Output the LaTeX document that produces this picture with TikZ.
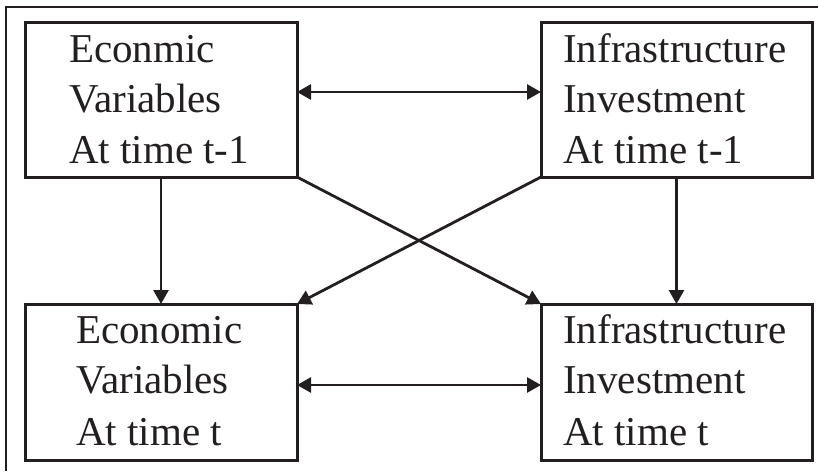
\documentclass[tikz,border=0pt]{standalone}
\usepackage{fontspec}
\setmainfont{Liberation Serif}
\usetikzlibrary{arrows.meta}
\definecolor{ink}{RGB}{35,31,32}
\begin{document}
\begin{tikzpicture}[x=1pt,y=-1pt,
  box/.style={draw=ink,line width=3pt,rectangle,inner sep=0pt,outer sep=0pt,minimum height=155pt},
  txt/.style={anchor=base west,inner sep=0pt,text=ink,font=\fontsize{41}{50}\selectfont},
  tip/.tip={Triangle[length=14pt,width=15pt]},
  arr/.style={draw=ink,line width=2.8pt,-tip},
  dbl/.style={draw=ink,line width=2.8pt,tip-tip},
  frame/.style={draw=ink,line width=2.2pt}]
\useasboundingbox (0,0) rectangle (818,471);
\draw[frame] (6,471) -- (6,7) -- (818,7);
% boxes
\node[box,minimum width=272pt] (tl) at (161,99.5) {};
\node[box,minimum width=271pt] (tr) at (676.5,99.5) {};
\node[box,minimum width=272pt,minimum height=156pt] (bl) at (161,382) {};
\node[box,minimum width=271pt,minimum height=156pt] (br) at (676.5,382) {};
% texts
\node[txt] (tla) at (69,62) {Econmic};
\node[txt] (tlb) at (69,112) {Variables};
\node[txt] (tlc) at (69,163) {At time t-1};
\node[txt] (tra) at (563,62) {Infrastructure};
\node[txt] (trb) at (563,112) {Investment};
\node[txt] (trc) at (563,163) {At time t-1};
\node[txt] (bla) at (76,343) {Economic};
\node[txt] (blb) at (76,393) {Variables};
\node[txt] (blc) at (76,445) {At time t};
\node[txt] (bra) at (563,343) {Infrastructure};
\node[txt] (brb) at (563,393) {Investment};
\node[txt] (brc) at (563,445) {At time t};
% connectors
\draw[dbl] ([yshift=7.5pt]tl.east) -- ([yshift=7.5pt]tr.west);
\draw[dbl] ([yshift=-3pt]bl.east) -- ([yshift=-3pt]br.west);
\draw[arr] (tl.south) -- (bl.north);
\draw[arr] (tr.south) -- (br.north);
\draw[arr] (tl.south east) -- (br.north west);
\draw[arr] (tr.south west) -- (bl.north east);
\end{tikzpicture}
\end{document}
